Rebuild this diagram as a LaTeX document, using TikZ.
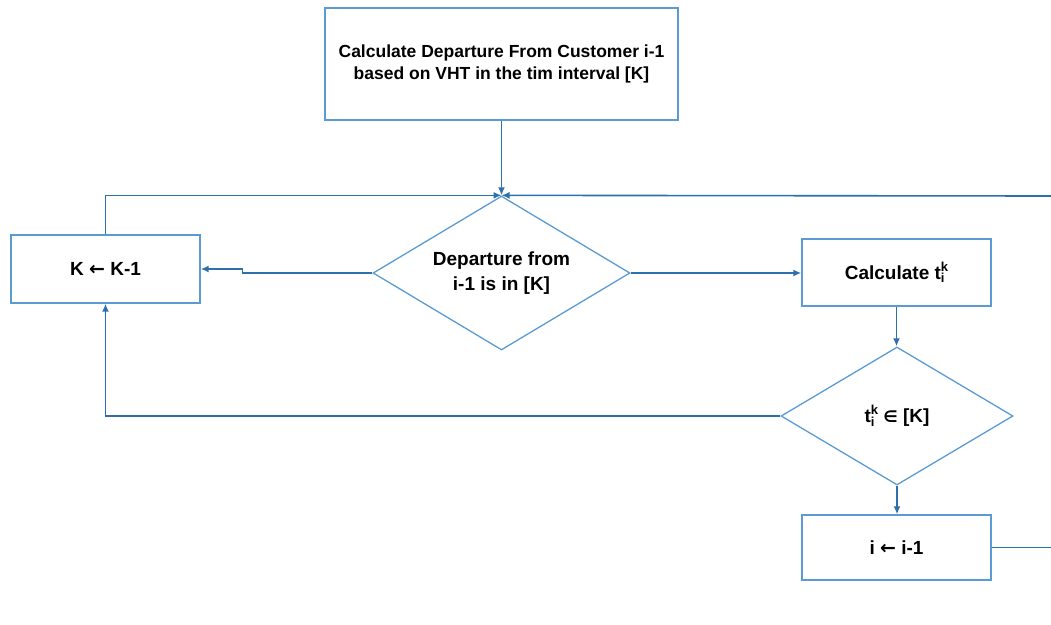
\documentclass[tikz,border=0pt]{standalone}
\usepackage{fontspec}
\setmainfont{Liberation Sans}
\newfontfamily\symfont{DejaVu Sans}
\usetikzlibrary{shapes.geometric,arrows.meta}
\definecolor{boxblue}{RGB}{91,155,213}
\definecolor{linkblue}{RGB}{46,112,172}
% t with stacked subscript i and superscript k
\newcommand{\tvar}{t\rlap{\raisebox{-0.35ex}{\fontsize{13}{13}\selectfont i}}\raisebox{0.8ex}{\fontsize{13}{13}\selectfont k}}
\begin{document}
\begin{tikzpicture}[x=1pt,y=-1pt,
  procbox/.style={draw=boxblue,line width=1.4pt,rectangle,inner sep=0pt,align=center,
    font=\fontsize{19}{25}\selectfont\bfseries},
  decision/.style={draw=boxblue,line width=1.3pt,diamond,inner sep=0pt,align=center,
    font=\fontsize{19}{25.5}\selectfont\bfseries},
  link/.style={draw=linkblue,line width=1.6pt,-{Latex[length=8pt,width=7pt]}},
  plain/.style={draw=linkblue,line width=1.6pt}]
\useasboundingbox (0,0) rectangle (1051,624);

% process boxes and decisions
\node[procbox,minimum width=353pt,minimum height=112pt,
      font=\fontsize{17.5}{21.5}\selectfont\bfseries] (calcdep) at (501.5,64)
  {Calculate Departure From Customer i-1\\based on VHT in the tim interval [K]};
\node[decision,shape aspect=1.67,minimum width=257pt,minimum height=154pt] (indep) at (501.5,273)
  {Departure from\\i-1 is in [K]};
\node[procbox,minimum width=189pt,minimum height=68pt] (kdec) at (105.5,269)
  {K {\symfont ←} K-1};
\node[procbox,minimum width=189pt,minimum height=67pt] (calct) at (896.5,272.5)
  {Calculate \tvar};
\node[decision,shape aspect=1.68,minimum width=232pt,minimum height=138pt] (inK) at (897,416)
  {\tvar{} {\symfont\fontsize{16}{16}\selectfont ∈} [K]};
\node[procbox,minimum width=189pt,minimum height=65pt] (idec) at (896.5,547.5)
  {i {\symfont ←} i-1};

% free ends at the right margin
\coordinate (rtop) at (1051,196);
\coordinate (rbot) at (1051,547.5);

% connectors
\draw[link] (calcdep.south) -- (indep.north);
\draw[link] (kdec.north) |- (indep.north);
\draw[link] (rtop) -- (indep.north);
\draw[link] (indep.west) -- ++(-130,0) |- (kdec.east);
\draw[link] (indep.east) -- (indep.east -| calct.west);
\draw[link] (calct.south) -- (calct.south |- inK.north);
\draw[link] (inK.west) -| (kdec.south);
\draw[link] (inK.south) -- (inK.south |- idec.north);
\draw[plain] (idec.east) -- (rbot);
\end{tikzpicture}
\end{document}
